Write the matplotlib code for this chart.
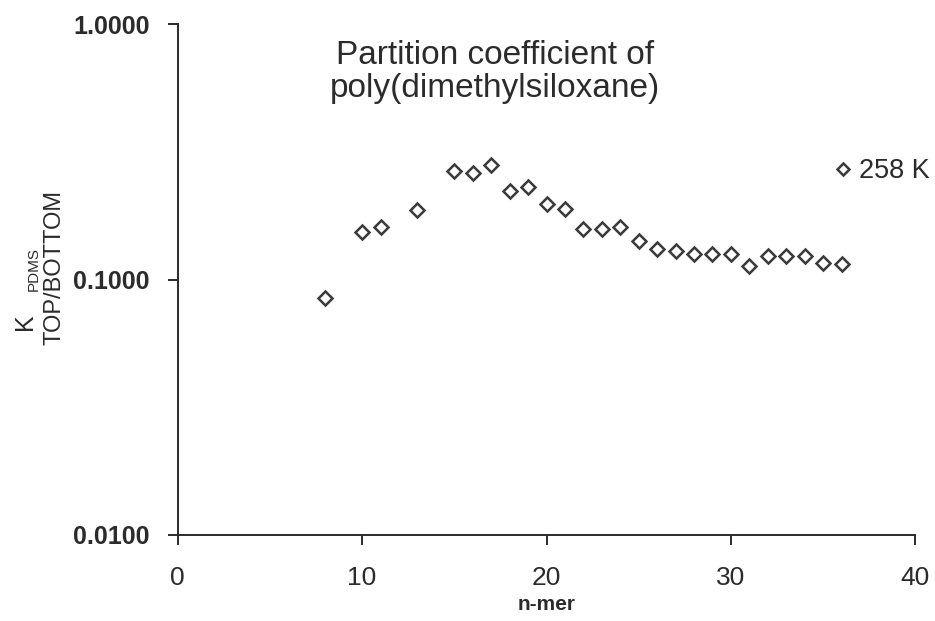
import numpy as np
import matplotlib
matplotlib.use('Agg')
import matplotlib.pyplot as plt

# Verteilungskoeffizient von PDMS je Kettenlaenge (n-mer), 258 K
n_mer = [8, 10, 11, 13, 15, 16, 17, 18, 19, 20, 21, 22, 23, 24, 25, 26,
         27, 28, 29, 30, 31, 32, 33, 34, 35, 36]
k_pdms = [0.085, 0.153, 0.160, 0.187, 0.267, 0.262, 0.281, 0.223, 0.231,
          0.198, 0.189, 0.158, 0.158, 0.161, 0.142, 0.132, 0.130, 0.126,
          0.126, 0.126, 0.113, 0.124, 0.124, 0.124, 0.116, 0.115]

x_ticks = [0, 10, 20, 30, 40]
y_ticks = [0.01, 0.1, 1.0]
y_tick_labels = ['0.0100', '0.1000', '1.0000']

plt.rcParams['font.family'] = ['Liberation Sans', 'DejaVu Sans']
ink = '#2b2b2b'

fig = plt.figure(figsize=(9.35, 6.21), dpi=100)
ax = fig.add_axes([0.190, 0.1385, 0.789, 0.8225])

ax.plot(n_mer, k_pdms, linestyle='none', marker='D', markersize=7.5,
        markerfacecolor='white', markeredgecolor='#3a3a3a',
        markeredgewidth=1.8, label='258 K')

ax.set_yscale('log')
ax.set_xlim(0, 40)
ax.set_ylim(0.01, 1.0)
ax.set_xticks(x_ticks)
ax.set_xticklabels([str(t) for t in x_ticks], fontsize=19, color=ink)
ax.set_yticks(y_ticks)
ax.set_yticklabels(y_tick_labels, fontsize=18, fontweight='bold', color=ink)
ax.minorticks_off()
ax.tick_params(axis='both', direction='out', length=7, width=1.4, color=ink)
ax.tick_params(axis='x', pad=15)
ax.tick_params(axis='y', pad=13)

for side in ['top', 'right']:
    ax.spines[side].set_visible(False)
for side in ['left', 'bottom']:
    ax.spines[side].set_linewidth(1.4)
    ax.spines[side].set_color(ink)

ax.set_xlabel('n-mer', fontsize=15, fontweight='bold', color=ink, labelpad=4)

# y-Achsenbeschriftung: K mit Index PDMS, daneben TOP/BOTTOM
fig.text(0.014, 0.469, 'K', rotation=90, fontsize=18, color=ink,
         ha='left', va='bottom')
fig.text(0.029, 0.532, 'PDMS', rotation=90, fontsize=11, color=ink,
         ha='left', va='bottom')
fig.text(0.046, 0.444, 'TOP/BOTTOM', rotation=90, fontsize=17, color=ink,
         ha='left', va='bottom')

ax.text(0.430, 0.907, 'Partition coefficient of\npoly(dimethylsiloxane)',
        transform=ax.transAxes, ha='center', va='center', fontsize=24,
        color=ink, linespacing=1.1)

ax.legend(loc='center left', bbox_to_anchor=(0.893, 0.712), frameon=False,
          handlelength=0.5, handletextpad=0.35, borderpad=0, borderaxespad=0,
          fontsize=19.5, markerscale=0.75, labelcolor=ink)

fig.savefig('out.png', dpi=100)
